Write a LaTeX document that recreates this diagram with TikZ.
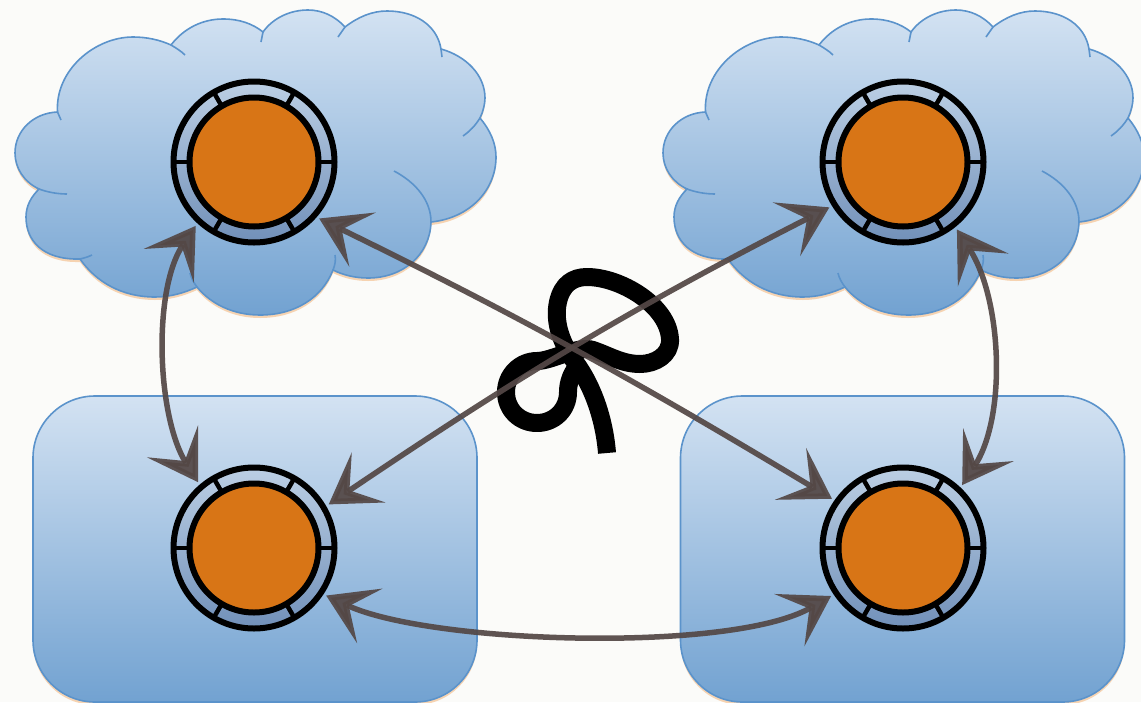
\documentclass[tikz,border=0pt]{standalone}
\usetikzlibrary{arrows.meta,shadows}
\definecolor{fondo}{HTML}{FBFBF9}
\definecolor{azulalto}{HTML}{D3E2F2}
\definecolor{azulbajo}{HTML}{72A2D1}
\definecolor{azulborde}{HTML}{5B93CB}
\definecolor{anilloalto}{HTML}{BCCFE4}
\definecolor{anillobajo}{HTML}{7190B9}
\definecolor{naranja}{HTML}{D87516}
\definecolor{pardo}{HTML}{544846}
\definecolor{sombra}{HTML}{F5C9A0}
\tikzset{
    cloudfill/.pic={
        \path[cuerpo] (57.5,112)
            .. controls (55,70) and (95,37) .. (133,37)
            .. controls (147,37) and (160,40) .. (171,45)
            .. controls (184,28) and (203,19) .. (223,19)
            .. controls (240,19) and (253,24) .. (263,32)
            .. controls (273,18) and (290,10) .. (308,10)
            .. controls (322,10) and (335,16) .. (345,27)
            .. controls (358,17) and (372,11) .. (387,11)
            .. controls (415,11) and (437,25) .. (441,49)
            .. controls (466,56) and (485,75) .. (485,98)
            .. controls (485,104) and (483,112) .. (480,118)
            .. controls (490,130) and (496,143) .. (496,157)
            .. controls (496,190) and (470,218) .. (431,222)
            .. controls (430,255) and (403,278) .. (368,278)
            .. controls (355,278) and (343,275) .. (333,270)
            .. controls (322,298) and (295,315) .. (260,315)
            .. controls (232,315) and (210,303) .. (197,287)
            .. controls (184,293) and (170,297) .. (155,297)
            .. controls (122,297) and (96,282) .. (80,259)
            .. controls (42,260) and (26,240) .. (26,217)
            .. controls (26,206) and (31,197) .. (39,189)
            .. controls (24,182) and (15,168) .. (15,153)
            .. controls (15,131) and (33,113) .. (57.5,112) -- cycle;
        % the short inner strokes of the lobes
        \draw[azulborde, line width=1.6pt]
            (57.5,112) -- (61,120)
            (171,45) .. controls (176,48) and (181,51) .. (185,55)
            (263,32) -- (261,42)
            (345,27) -- (338,37)
            (441,49) -- (442,57)
            (480,118) .. controls (475,126) and (470,131) .. (463,136)
            (431,222) .. controls (431,200) and (415,182) .. (394,171)
            (333,270) .. controls (335,265) and (336,260) .. (335,255)
            (197,287) .. controls (194,283) and (191,278) .. (190,273)
            (80,259) .. controls (84,258) and (88,257) .. (92,255)
            (39,189) .. controls (47,192) and (57,194) .. (67,194);
    },
    cuerpo/.style={draw=azulborde, line width=1.6pt, top color=azulalto, bottom color=azulbajo,
        drop shadow={shadow xshift=0pt, shadow yshift=-3pt, fill=sombra, draw=none, opacity=.8}},
    caja/.style={cuerpo, rounded corners=62pt, minimum width=444pt, minimum height=306pt, inner sep=0pt},
    anillo/.style={circle, draw=black, line width=6pt, minimum size=161pt, inner sep=0pt, outer sep=0pt,
        top color=anilloalto, bottom color=anillobajo},
    nucleo/.style={circle, draw=black, line width=6pt, fill=naranja, minimum size=129pt, inner sep=0pt, outer sep=0pt},
    enlace/.style={<->, >={Stealth[length=48pt, width=60pt, inset=23pt]}, draw=pardo,
        line width=5.5pt, opacity=.93, shorten <=6pt, shorten >=6pt},
    lazo/.style={draw=black, line width=18pt, line join=round}
}
\begin{document}
\begin{tikzpicture}[x=1pt, y=-1pt]
    \useasboundingbox (0,0) rectangle (1141,702);
    \fill[fondo] (0,0) rectangle (1141,702);

    \pic at (0,0) {cloudfill};
    \pic at (648,0) {cloudfill};
    \node (b3) [caja] at (255,549) {};
    \node (b4) [caja] at (902.5,549) {};

    % the knot goes under the links
    \draw[lazo] (607,453) .. controls (604,415) and (590,380) .. (572,358)
        .. controls (560,340) and (554,320) .. (558,302)
        .. controls (562,284) and (573,277) .. (587,277)
        .. controls (620,277) and (668,305) .. (670,339)
        .. controls (671,355) and (655,364) .. (640,364)
        .. controls (622,364) and (608,355) .. (593,350)
        .. controls (578,345) and (552,361) .. (537,361)
        .. controls (520,361) and (506,375) .. (506,392)
        .. controls (506,410) and (520,423) .. (537,423)
        .. controls (554,423) and (568,410) .. (568,392)
        .. controls (568,382) and (572,372) .. (578,366);

    \foreach \n/\x/\y in {1/254/162, 2/903/162, 3/254/548, 4/903/548} {
        \node (r\n) [anillo] at (\x,\y) {};
        \foreach \a in {0,60,...,300}
            \draw[black, line width=4.5pt] (\x,\y) ++(\a:64.5) -- ++(\a:16);
        \node (n\n) [nucleo] at (\x,\y) {};
    }

    \draw[enlace] (r1.-133) to[out=236, in=122, looseness=.8] (r3.131);
    \draw[enlace] (r2.-51) to[out=-57, in=57, looseness=.85] (r4.46);
    \draw[enlace] (r1.-42) to[out=-26, in=149] (r4.145);
    \draw[enlace] (r2.-148) to[out=207, in=34] (r3.30);
    \draw[enlace] (r3.-34) to[out=-25, in=210, looseness=.6] (r4.-146);
\end{tikzpicture}
\end{document}
